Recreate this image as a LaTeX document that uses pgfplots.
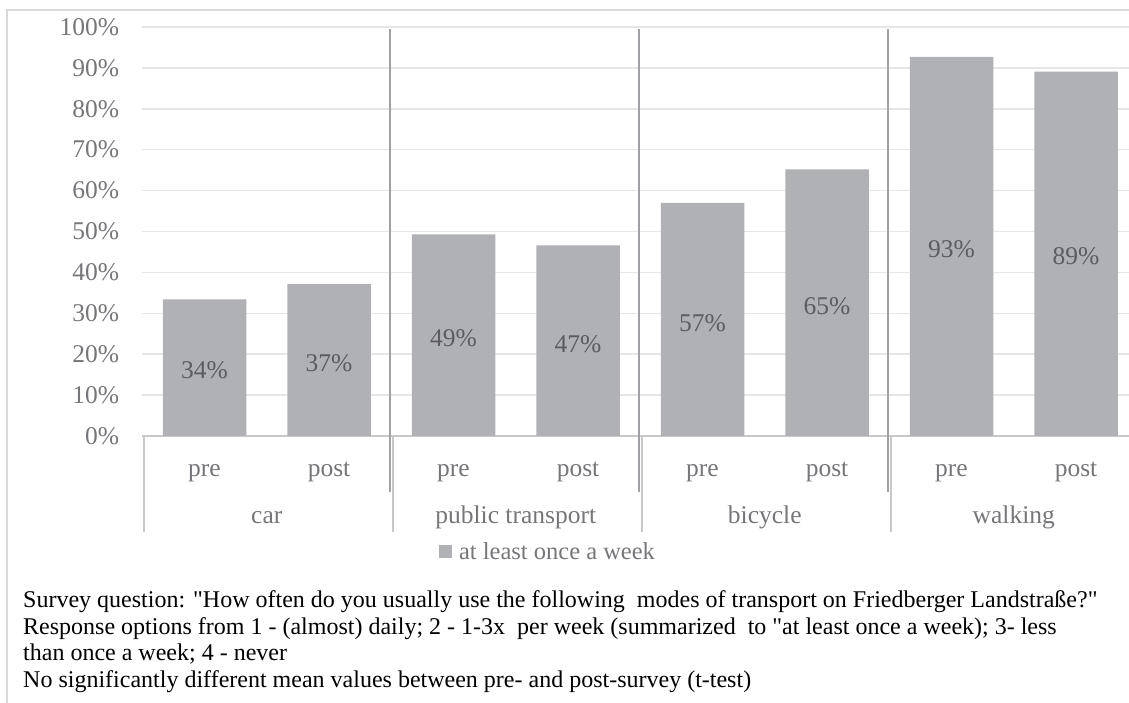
\documentclass[border=0pt]{standalone}
\usepackage{pgfplots}
\pgfplotsset{compat=1.18}
\usepackage{fontspec}
\setmainfont{Liberation Serif}[Ligatures=TeXOff]
\definecolor{barfill}{RGB}{176,177,181}
\definecolor{gridgray}{RGB}{230,230,230}
\definecolor{axisgray}{RGB}{200,200,200}
\definecolor{sepgray}{RGB}{160,160,165}
\definecolor{labelgray}{RGB}{118,118,122}
\definecolor{valgray}{RGB}{92,92,96}
\definecolor{framegray}{RGB}{217,217,217}
\newcommand{\bigf}{\fontsize{25.5bp}{30bp}\selectfont}
\newcommand{\legf}{\fontsize{24.5bp}{29bp}\selectfont}
\newcommand{\notef}{\fontsize{24bp}{26bp}\selectfont}
\begin{document}
\begin{tikzpicture}[x=1bp,y=1bp]
\path[use as bounding box] (0,0) rectangle (1129,703);
\clip (0,0) rectangle (1129,703);
\draw[framegray, line width=1.5bp] (7,693) rectangle (1140,-10);
\begin{axis}[
  at={(142.25bp,267bp)}, anchor=south west,
  scale only axis, width=996bp, height=409bp,
  xmin=-0.5, xmax=7.5, ymin=0, ymax=100,
  axis x line*=bottom, axis y line*=left,
  y axis line style={draw=none},
  x axis line style={draw=axisgray, line width=1.5bp, -},
  ytick={0,10,...,100},
  yticklabel={\pgfmathprintnumber{\tick}\%},
  ymajorgrids, grid style={gridgray, line width=1.5bp},
  major tick length=0pt,
  xtick={0,...,7}, xticklabels={pre,post,pre,post,pre,post,pre,post},
  tick label style={font=\bigf, text=labelgray},
  yticklabel style={anchor=east, inner sep=0pt, xshift=-23bp},
  xticklabel style={anchor=base, inner sep=0pt, yshift=-41bp},
  /pgf/number format/assume math mode=true,
  clip=false,
  legend style={draw=none, fill=none, inner sep=0pt, outer sep=0pt,
    at={(0.298,-0.2836)}, anchor=west, font=\legf, text=labelgray,
    nodes={inner sep=0pt},
    /tikz/every odd column/.append style={column sep=7bp}},
  legend image code/.code={\fill[barfill] (0bp,-6.5bp) rectangle (13bp,6.5bp);},
]
\addplot[ybar, bar width=83.5bp, fill=barfill, draw=none, bar shift=0pt]
  coordinates {(0,33.4) (1,37.1) (2,49.3) (3,46.6) (4,57.0) (5,65.2) (6,92.7) (7,89.1)};
\addlegendentry{at least once a week}
\addplot[draw=none, mark=none, forget plot, nodes near coords={\pgfmathprintnumber{\pgfplotspointmeta}\%},
  point meta=explicit,
  nodes near coords style={anchor=center, font=\bigf, text=valgray, inner sep=0pt}]
  table[meta=lab] {
x y lab
0 16.0 34
1 17.7 37
2 23.85 49
3 22.5 47
4 27.7 57
5 31.8 65
6 45.7 93
7 43.9 89
};
% separators between groups
\foreach \s in {1.5,3.5,5.5}{
  \edef\temp{\noexpand\draw[sepgray, line width=1.5bp] ([xshift=-1.5bp]axis cs:\s,99.5) -- ([xshift=-1.5bp]axis cs:\s,0) -- ++(0bp,-56bp);}
  \temp
}
% group ticks on the outer category level
\foreach \s in {-0.5,1.5,3.5,5.5}{
  \edef\temp{\noexpand\draw[axisgray, line width=1.5bp] ([xshift=1.5bp]axis cs:\s,0) -- ++(0bp,-96bp);}
  \temp
}
\node[anchor=base, font=\bigf, text=labelgray, inner sep=0pt] at ([yshift=-88bp]axis cs:0.5,0) {car};
\node[anchor=base, font=\bigf, text=labelgray, inner sep=0pt] at ([yshift=-88bp]axis cs:2.5,0) {public transport};
\node[anchor=base, font=\bigf, text=labelgray, inner sep=0pt] at ([yshift=-88bp]axis cs:4.5,0) {bicycle};
\node[anchor=base, font=\bigf, text=labelgray, inner sep=0pt] at ([yshift=-88bp]axis cs:6.5,0) {walking};
\end{axis}
\node[anchor=base west, font=\notef, inner sep=0pt] at (23,95.4) {Survey question: "How often do you usually use the following\ \ modes of transport on Friedberger Landstraße?"};
\node[anchor=base west, font=\notef, inner sep=0pt] at (23,68.8) {Response options from 1 - (almost) daily; 2 - 1-3x\ \ per week (summarized\ \ to "at least once a week); 3- less};
\node[anchor=base west, font=\notef, inner sep=0pt] at (23,42.2) {than once a week; 4 - never};
\node[anchor=base west, font=\notef, inner sep=0pt] at (23,15.6) {No significantly different mean values between pre- and post-survey (t-test)};
\end{tikzpicture}
\end{document}
